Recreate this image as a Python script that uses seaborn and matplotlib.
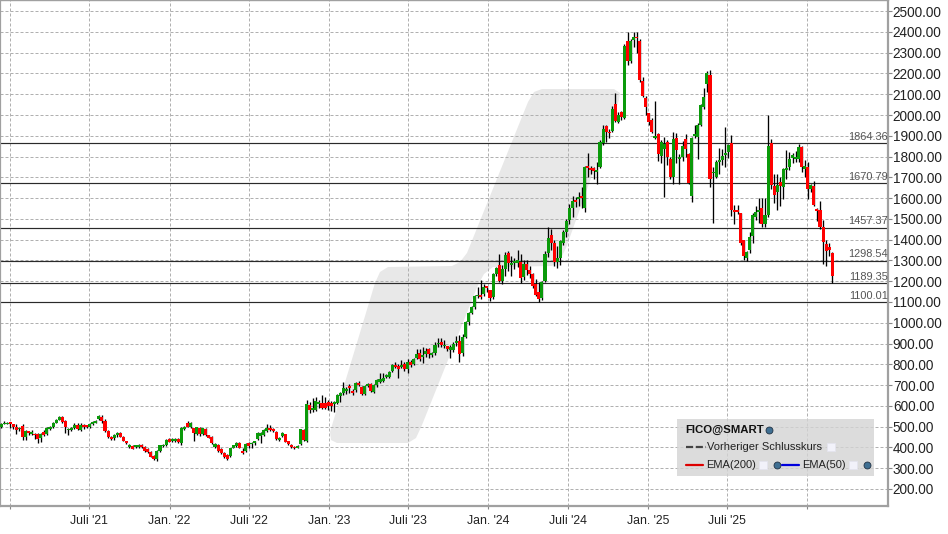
import numpy as np
import pandas as pd
import seaborn as sns
import matplotlib
matplotlib.use("Agg")
import matplotlib.pyplot as plt
import matplotlib.dates as mdates
from matplotlib.lines import Line2D
from matplotlib.patches import Polygon, Rectangle

opens = [
498,513,513,520,513,498,487,501,452,479, 466,466,466,447,474,463,487,500,519,533,
546,525,484,484,493,509,484,506,506,500, 513,519,535,546,527,479,452,444,458,468,
452,431,403,407,402,402,411,402,390,378, 358,342,381,406,410,439,429,429,439,420,
490,519,498,492,466,493,463,490,458,452, 403,413,394,375,362,358,399,406,423,383,
383,420,415,423,442,455,458,480,493,487, 474,436,455,463,429,413,404,399,416,484,
431,604,580,581,610,616,616,620,616,608, 616,648,661,671,695,671,674,709,689,657,
697,705,669,701,716,721,737,737,769,798, 790,785,801,777,812,801,830,854,836,849,
873,846,854,896,908,886,887,870,870,902, 913,854,933,1002,1047,1074,1127,1136,1138,1175,
1157,1122,1234,1278,1202,1258,1335,1278,1287,1290, 1292,1218,1281,1254,1234,1186,1149,1117,1202,1335,
1422,1385,1294,1311,1385,1435,1494,1551,1591,1597, 1610,1554,1754,1745,1743,1727,1751,1864,1947,1920,
1925,2053,1968,2013,1987,2356,2262,2361,2374,2356, 2164,2082,2008,1976,1891,1909,1803,1835,1870,1790,
1700,1889,1790,1796,1883,1812,1612,1901,1892,1952, 2040,2149,2193,1719,1703,1775,1783,1807,1823,1864,
1543,1543,1527,1398,1313,1350,1419,1507,1535,1551, 1475,1518,1864,1658,1631,1677,1655,1735,1751,1791,
1786,1786,1846,1740,1751,1642,1658,1546,1543,1462, 1380,1364,1334]
closes = [
511,519,519,511,498,484,495,452,479,469, 474,461,442,463,461,493,500,519,533,546,
522,497,490,492,506,490,508,497,497,513, 524,529,553,527,479,452,440,458,468,452,
432,421,413,394,411,411,402,381,378,355, 346,383,410,414,436,428,439,439,426,493,
500,500,517,471,497,463,492,458,447,420, 415,381,375,355,346,395,410,423,399,375,
415,407,423,429,468,468,484,493,484,479, 439,447,468,428,415,402,396,407,487,436,
608,580,588,623,618,592,592,600,600,620, 652,661,685,682,685,661,709,701,657,695,
705,673,701,726,729,732,750,761,796,785, 777,796,777,809,796,825,849,825,846,864,
849,854,894,902,892,892,873,881,897,913, 849,933,1002,1047,1074,1128,1136,1125,1173,1167,
1117,1234,1263,1202,1258,1327,1287,1287,1297,1300, 1215,1282,1254,1234,1178,1135,1114,1194,1330,1410,
1382,1294,1310,1395,1437,1491,1551,1586,1583,1604, 1602,1750,1746,1737,1732,1735,1870,1933,1920,1915,
2029,1973,2000,1989,2332,2262,2356,2374,2369,2169, 2093,2039,1968,1918,1899,1812,1872,1860,1800,1700,
1883,1832,1798,1851,1835,1671,1888,1908,1950,2048, 2087,2200,1693,1725,1775,1783,1803,1815,1856,1543,
1535,1535,1382,1323,1340,1413,1518,1535,1543,1475, 1518,1851,1663,1615,1663,1660,1738,1743,1786,1807,
1799,1846,1751,1756,1644,1661,1567,1539,1459,1390, 1347,1351,1226]
highs = [
519,529,521,521,515,511,500,514,482,481, 482,470,470,468,484,500,505,521,536,551,
551,530,495,497,516,516,516,513,510,519, 527,532,556,554,535,482,455,463,474,472,
455,433,418,410,414,416,418,406,395,382, 362,388,413,418,441,445,443,443,444,497,
505,529,522,495,500,497,495,493,461,455, 420,418,398,380,366,399,413,428,428,398,
420,424,427,432,472,472,487,511,506,493, 477,452,472,466,433,416,408,411,490,487,
628,617,637,641,628,650,641,630,625,625, 655,665,713,690,703,680,713,718,695,700,
712,710,705,730,760,760,755,770,802,810, 803,820,810,825,820,830,875,875,885,880,
880,860,905,925,925,915,890,895,905,935, 940,945,1008,1050,1082,1135,1170,1205,1185,1178,
1160,1240,1270,1330,1280,1340,1345,1320,1310,1350, 1330,1300,1300,1275,1240,1210,1195,1200,1345,1460,
1451,1400,1370,1400,1445,1500,1570,1610,1605,1630, 1655,1755,1815,1755,1750,1775,1880,1952,1950,1935,
2045,2104,2015,2020,2340,2401,2365,2401,2400,2365, 2185,2090,2010,1985,2066,1915,1880,1895,1880,1800,
1920,1915,1810,1875,1910,1815,1895,1952,1960,2055, 2130,2213,2216,1751,1785,1840,1835,1940,1862,1902,
1565,1565,1530,1400,1345,1435,1530,1560,1600,1600, 1600,2000,1885,1715,1715,1700,1745,1830,1820,1815,
1825,1860,1850,1785,1775,1670,1680,1550,1585,1495, 1398,1383,1340]
lows = [
492,511,511,495,490,463,480,434,434,462, 458,442,421,428,455,458,484,495,516,530,
516,471,461,479,490,484,479,490,492,495, 510,516,532,519,476,446,436,438,452,449,
430,418,398,390,398,395,398,378,372,352, 339,335,378,402,406,425,426,426,423,411,
486,497,495,431,458,456,458,455,444,417, 398,378,370,350,339,355,396,402,396,370,
378,396,395,413,438,421,455,476,479,474, 436,433,450,424,411,398,390,395,410,431,
425,566,570,575,590,583,585,580,575,572, 610,620,650,655,660,650,665,695,650,650,
690,665,660,693,712,715,732,733,762,780, 735,780,770,760,785,795,825,815,805,835,
830,835,845,885,885,880,865,830,860,890, 812,840,925,990,1042,1068,1120,1115,1130,1150,
1105,1115,1225,1195,1185,1225,1250,1225,1260,1270, 1190,1205,1230,1215,1165,1130,1100,1110,1195,1315,
1350,1275,1265,1280,1375,1415,1475,1510,1555,1560, 1550,1535,1700,1715,1690,1670,1745,1855,1870,1890,
1920,1965,1960,1975,1980,2240,2250,2329,2300,2160, 2085,2000,1950,1915,1885,1780,1770,1607,1760,1690,
1670,1770,1670,1780,1800,1668,1580,1890,1790,1945, 2030,2110,1655,1482,1695,1716,1760,1750,1795,1515,
1475,1525,1375,1300,1295,1335,1385,1495,1480,1460, 1460,1510,1645,1575,1545,1560,1595,1690,1735,1770,
1775,1775,1725,1700,1595,1630,1560,1490,1450,1285, 1275,1320,1190]

level_values = [1864.36, 1670.79, 1457.37, 1298.54, 1189.35, 1100.01]
tick_dates = ["2021-01-01", "2021-07-01", "2022-01-01", "2022-07-01", "2023-01-01", "2023-07-01",
              "2024-01-01", "2024-07-01", "2025-01-01", "2025-07-01", "2026-01-01"]
tick_labels = ["", "Juli '21", "Jan. '22", "Juli '22", "Jan. '23", "Juli '23",
               "Jan. '24", "Juli '24", "Jan. '25", "Juli '25", ""]
y_ticks = list(range(200, 2600, 100))
last_date = "2026-02-27"

GREEN, RED = "#0a9a0a", "#ff0000"
W, H = 948, 534

sns.set_style("white")
plt.rcParams["font.family"] = ["Liberation Sans", "DejaVu Sans"]

fig = plt.figure(figsize=(W / 100, H / 100), dpi=100)
ax = fig.add_axes([0, 28 / H, 888 / W, 506 / H])

dates = pd.date_range(end=last_date, periods=len(opens), freq="7D")
xs = mdates.date2num(dates)
o, c = np.array(opens, float), np.array(closes, float)


def px(x, y):
    return x / W, 1 - y / H


# watermark behind everything (pixel outline of the site logo)
logo = [(330, 432), (331, 440), (337, 443), (408, 443), (416, 438), (422, 425), (478, 285), (484, 274),
        (493, 267), (552, 266), (560, 260), (566, 248), (619, 100), (620, 93), (614, 89), (542, 89),
        (534, 92), (528, 102), (467, 253), (460, 262), (452, 266), (388, 267), (380, 272), (375, 283)]
ax.add_patch(Polygon([px(*p) for p in logo], closed=True, transform=fig.transFigure,
                     facecolor="#e8e8e8", edgecolor="none", zorder=0.5))

# horizontal levels
levels = pd.DataFrame({
    "x": np.tile([0.0, 1.0], len(level_values)),
    "level": np.repeat(level_values, 2),
    "id": np.repeat(range(len(level_values)), 2),
})
ax.set_xlim(mdates.date2num(pd.Timestamp("2021-07-01")) - 89.3 / 0.4365,
            mdates.date2num(pd.Timestamp("2021-07-01")) + (888 - 89.3) / 0.4365)
x0, x1 = ax.get_xlim()
levels["x"] = x0 + levels["x"] * (x1 - x0)
sns.lineplot(data=levels, x="x", y="level", units="id", estimator=None, color="#2a2a2a",
             lw=0.85, legend=False, ax=ax, zorder=2)
for ln in ax.get_lines():
    ln.set_snap(True)

# wicks
wicks = pd.DataFrame({
    "x": np.repeat(xs, 2),
    "price": np.column_stack([lows, highs]).ravel(),
    "candle": np.repeat(np.arange(len(xs)), 2),
})
sns.lineplot(data=wicks, x="x", y="price", units="candle", estimator=None, color="black",
             lw=0.95, legend=False, ax=ax, zorder=3, solid_capstyle="butt")

# bodies
ax.bar(xs, np.abs(c - o), bottom=np.minimum(o, c), width=6.95,
       color=[GREEN if b >= a else RED for a, b in zip(o, c)], linewidth=0, zorder=4)

ax.set_xlim(x0, x1)
ax.set_ylim(118, 2553.6)
ax.set_xlabel("")
ax.set_ylabel("")

ax.yaxis.tick_right()
ax.set_yticks(y_ticks)
ax.set_yticklabels([f"{v:.2f}" for v in y_ticks], fontsize=9.8, color="#222222")
ax.set_xticks(mdates.date2num(pd.to_datetime(tick_dates)))
ax.set_xticklabels(tick_labels, fontsize=8.8, color="#222222")
ax.tick_params(axis="y", which="both", length=3, width=0.8, color="#888888", pad=0.5, right=True, left=False)
ax.tick_params(axis="x", which="both", length=2, width=0.8, color="#888888", pad=4.5, bottom=True)
ax.grid(True, color="#b0b0b0", lw=0.72, ls=(0, (3, 2)), zorder=1)
ax.set_axisbelow(True)
for side, lw in (("left", 1.6), ("right", 1.6), ("bottom", 1.6), ("top", 1.0)):
    ax.spines[side].set_visible(True)
    ax.spines[side].set_color("#a0a0a0")
    ax.spines[side].set_linewidth(lw)

# labels of the levels
for v in level_values:
    ax.annotate(f"{v:.2f}", xy=(1, v), xycoords=ax.get_yaxis_transform(), xytext=(-0.3, 1.0),
                textcoords="offset points", ha="right", va="bottom", fontsize=7.9, color="#555555", zorder=5)

# legend panel
fig.add_artist(Rectangle(px(677, 476), 197 / W, 57 / H, transform=fig.transFigure,
                         facecolor="#d4d4d4", alpha=0.8, edgecolor="none", zorder=6))


def ltext(x, y, s, **kw):
    fig.text(*px(x, y), s, ha="left", va="center", fontsize=8.0, color="#222222", zorder=8, **kw)


def lline(x_a, x_b, y, color, **kw):
    fig.add_artist(Line2D([x_a / W, x_b / W], [1 - y / H] * 2, color=color, lw=1.6,
                          transform=fig.transFigure, zorder=8, **kw))


def mark(x, y, shape):
    fig.add_artist(Line2D([x / W], [1 - y / H], marker="o" if shape == "globe" else "s",
                          ms=5.0 if shape == "globe" else 5.5,
                          mfc="#3f6f92" if shape == "globe" else "#f2f2fa",
                          mec="#223344" if shape == "globe" else "#e4e4ee", mew=0.6,
                          transform=fig.transFigure, zorder=8))


fig.text(*px(685, 430), "FICO@SMART", ha="left", va="center", fontsize=8.2, fontweight="bold",
         color="#111111", zorder=8)
mark(769, 430, "globe")
lline(686, 706, 447, "#444444", ls=(0, (3.2, 1.2)))
ltext(707, 447, "Vorheriger Schlusskurs")
mark(831, 447, "square")
lline(686, 703, 465, "#dd0000")
ltext(706, 465, "EMA(200)")
mark(763, 465, "square")
mark(777, 465, "globe")
lline(782, 799, 465, "#0000dd")
ltext(802, 465, "EMA(50)")
mark(853, 465, "square")
mark(867, 465, "globe")

fig.savefig("out.png", dpi=100, facecolor="white")
